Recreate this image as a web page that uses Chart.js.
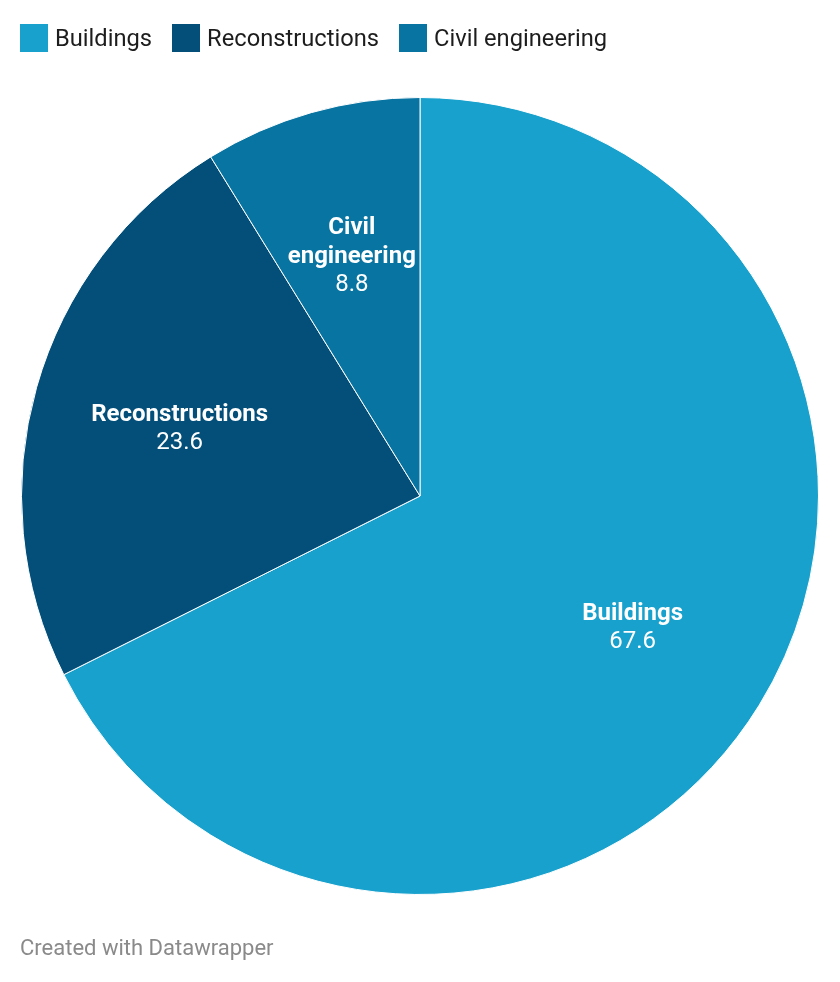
<!DOCTYPE html>
<html lang="en">
<head>
    <meta charset="UTF-8">
    <title>Construction output</title>
    <style>
        body { margin: 0; background: #fff; font-family: Roboto, sans-serif; }
        .wrap { position: relative; width: 840px; height: 982px; }
        .legend { position: absolute; left: 20px; top: 24px; display: flex; }
        .legend .item { display: flex; align-items: center; margin-right: 20px; font-size: 23.7px; color: #1d1d1d; height: 28px; }
        .legend .box { width: 28px; height: 28px; margin-right: 7px; }
        canvas { position: absolute; left: 0; top: 0; }
        .credit { position: absolute; left: 20px; top: 935px; font-size: 22px; line-height: 26px; color: #8a8a8a; }
    </style>
</head>
<body>
    <div class="wrap">
        <canvas id="pieCanvas" width="840" height="982" style="width:840px; height:982px;"></canvas>
        <div class="legend" id="legend"></div>
        <div class="credit">Created with Datawrapper</div>
    </div>

    <script src="https://cdn.jsdelivr.net/npm/chart.js"></script>
    <script>
        const categories = ['Buildings', 'Reconstructions', 'Civil engineering'];
        const shares = [67.6, 23.6, 8.8];
        const colors = ['#18a1cd', '#034f79', '#0874a2'];

        // legend built from the same arrays
        const legend = document.getElementById('legend');
        categories.forEach(function (name, i) {
            const item = document.createElement('div');
            item.className = 'item';
            item.innerHTML = '<span class="box" style="background:' + colors[i] + '"></span>' + name;
            legend.appendChild(item);
        });

        // slice labels: bold name + value, placed along the mid angle
        const sliceLabels = {
            id: 'sliceLabels',
            afterDatasetsDraw(chart) {
                const ctx = chart.ctx;
                const meta = chart.getDatasetMeta(0);
                ctx.save();
                ctx.fillStyle = '#ffffff';
                ctx.textAlign = 'center';
                ctx.textBaseline = 'middle';
                meta.data.forEach(function (arc, i) {
                    const p = arc.getProps(['x', 'y', 'startAngle', 'endAngle', 'outerRadius'], true);
                    const mid = (p.startAngle + p.endAngle) / 2;
                    const r = p.outerRadius * 0.627;
                    const cx = p.x + Math.cos(mid) * r;
                    const cy = p.y + Math.sin(mid) * r + 1;
                    const words = categories[i] === 'Civil engineering' ? ['Civil', 'engineering'] : [categories[i]];
                    const lines = words.length + 1;
                    let y = cy - (lines - 1) * 28.5 / 2;
                    ctx.font = 'bold 24px Roboto';
                    words.forEach(function (w) {
                        ctx.fillText(w, cx, y);
                        y += 28.5;
                    });
                    ctx.font = '24px Roboto';
                    ctx.fillText(shares[i].toFixed(1), cx, y);
                });
                ctx.restore();
            }
        };

        new Chart(document.getElementById('pieCanvas').getContext('2d'), {
            type: 'pie',
            data: {
                labels: categories,
                datasets: [{
                    data: shares,
                    backgroundColor: colors,
                    borderColor: '#ffffff',
                    borderWidth: 1,
                    hoverOffset: 0,
                    offset: 0
                }]
            },
            options: {
                responsive: false,
                animation: false,
                layout: { padding: { left: 21, right: 21, top: 97, bottom: 87 } },
                plugins: {
                    legend: { display: false },
                    tooltip: { enabled: false }
                }
            },
            plugins: [sliceLabels]
        });
    </script>
</body>
</html>
